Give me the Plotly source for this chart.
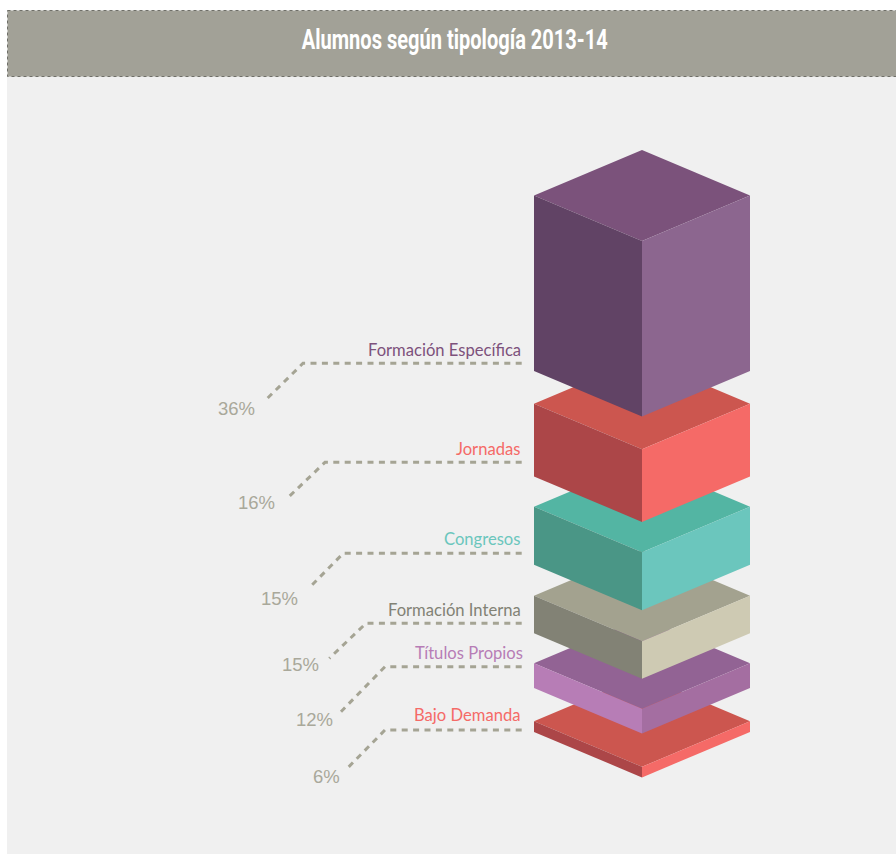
import plotly.graph_objects as go

# ---- data (top of the stack first) ----
categories = ["Formación Específica", "Jornadas", "Congresos",
              "Formación Interna", "Títulos Propios", "Bajo Demanda"]
shares = [36, 16, 15, 15, 12, 6]
block_heights = [175.5, 72.7, 58.0, 37.5, 24.7, 10.6]
stack_gaps = [0, 32.7, 30.3, 31.0, 30.1, 33.3]
title_text = "Alumnos según tipología 2013-14"

# ---- styles ----
top_colors = ["#7b527b", "#cc564f", "#53b5a3", "#a3a28f", "#926394", "#cc564f"]
left_colors = ["#614365", "#ac4648", "#4a9686", "#828275", "#b77db6", "#ac4648"]
right_colors = ["#8c668f", "#f56a67", "#6bc6bd", "#cecab3", "#a46ea1", "#f56a67"]
label_colors = ["#7d527c", "#f56a67", "#6bc6bd", "#828275", "#b77db6", "#f56a67"]
share_color = "#a9a89a"
leader_color = "#a5a494"

# ---- layout constants (page pixels) ----
W, H = 896, 855
CX, HALF_W, HALF_D, STACK_TOP = 642, 108, 45.5, 195.5
LEADER_END_X = 521.7
leader_y = [363.3, 462.3, 553.3, 623.3, 666.7, 730.0]
leader_knee_x = [303, 325, 343.3, 366, 385, 385]
leader_tip = [(266.7, 399), (287.3, 498.3), (311, 586), (329.3, 658.3), (341, 711.7), (347.3, 768.3)]
label_y = [350, 449, 539, 610, 653, 715]
label_right = [521, 520, 520, 521, 522.5, 520]
share_right = [255, 275, 297.7, 319.3, 332.7, 340]
share_y = [408.3, 502.6, 598.3, 664.3, 719.3, 776]
TITLE_X, TITLE_Y, TITLE_WIDTH = 455, 39, 306

fig = go.Figure()


def face(xs, ys, color):
    fig.add_trace(go.Scatter(x=xs, y=ys, mode="lines", fill="toself", fillcolor=color,
                             line=dict(width=0, color=color), hoverinfo="skip", showlegend=False))


# block geometry is stacked from the measured heights and gaps
tops = []
cursor = STACK_TOP
for h, g in zip(block_heights, stack_gaps):
    cursor += g
    tops.append(cursor)
    cursor += h

# lower blocks first so the upper ones overlap them
for i in reversed(range(len(categories))):
    t, h = tops[i], block_heights[i]
    l, c, r = CX - HALF_W, CX, CX + HALF_W
    face([l, c, r, c], [t, t - HALF_D, t, t + HALF_D], top_colors[i])
    face([l, c, c, l], [t, t + HALF_D, t + HALF_D + h, t + h], left_colors[i])
    face([c, r, r, c], [t + HALF_D, t, t + h, t + HALF_D + h], right_colors[i])

# leaders
for i in range(len(categories)):
    tip_x, tip_y = leader_tip[i]
    fig.add_trace(go.Scatter(x=[LEADER_END_X, leader_knee_x[i], tip_x],
                             y=[leader_y[i], leader_y[i], tip_y], mode="lines",
                             line=dict(color=leader_color, width=3, dash="6px,5.4px"),
                             hoverinfo="skip", showlegend=False))

# texts
annotations = [dict(x=TITLE_X, y=TITLE_Y, text=title_text, showarrow=False,
                    font=dict(family="Roboto", size=28, weight=700, color="white"),
                    xanchor="center", yanchor="middle")]
for i, name in enumerate(categories):
    annotations.append(dict(x=label_right[i] + 2, y=label_y[i], text=name, showarrow=False,
                            font=dict(family="Lato", size=16.6, color=label_colors[i]),
                            xanchor="right", yanchor="middle"))
    annotations.append(dict(x=share_right[i] + 2, y=share_y[i], text=f"{shares[i]}%", showarrow=False,
                            font=dict(family="Liberation Sans", size=18.5, color=share_color),
                            xanchor="right", yanchor="middle"))

fig.update_layout(
    width=W, height=H, margin=dict(l=0, r=0, t=0, b=0),
    paper_bgcolor="white", plot_bgcolor="white", showlegend=False,
    xaxis=dict(range=[0, W], visible=False, fixedrange=True),
    yaxis=dict(range=[H, 0], visible=False, fixedrange=True),
    annotations=annotations,
    shapes=[
        dict(type="rect", x0=7, x1=W, y0=76, y1=854, fillcolor="#f0f0f0", line=dict(width=0), layer="below"),
        dict(type="rect", x0=7.5, x1=W + 3, y0=10.5, y1=76.5, fillcolor="#a2a197",
             line=dict(color="#6f6f68", width=1, dash="dot"), layer="below"),
    ],
)

# the reference title is set in a condensed face: squeeze the real text to its measured width
post = (
    "document.body.style.margin='0';document.body.style.overflow='hidden';"
    "document.querySelectorAll('.annotation-text').forEach(function(t){"
    "if(t.textContent.indexOf('Alumnos')===0){"
    f"t.setAttribute('textLength','{TITLE_WIDTH}');"
    "t.setAttribute('lengthAdjust','spacingAndGlyphs');}});"
)
fig.write_html("out.html", config=dict(displayModeBar=False), post_script=post)
